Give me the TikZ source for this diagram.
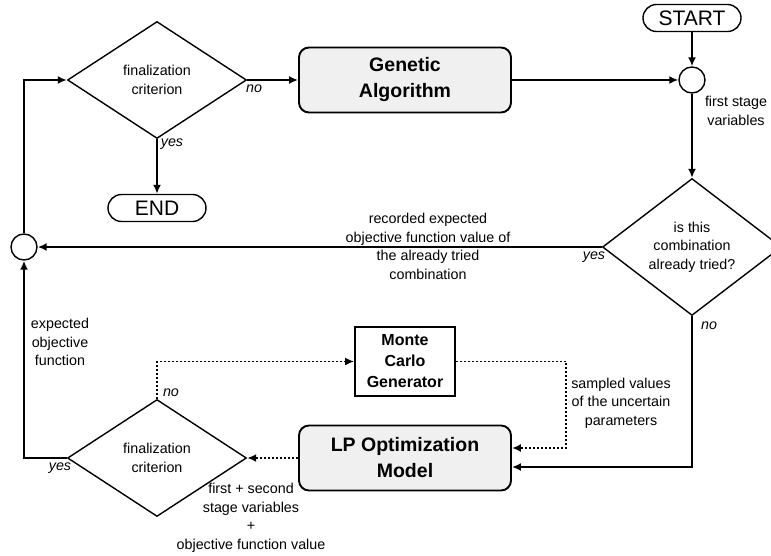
\documentclass[tikz,border=0pt]{standalone}
\usepackage{fontspec}
\setmainfont{Liberation Sans}
\usetikzlibrary{shapes.geometric,shapes.misc,arrows.meta}

\begin{document}
\begin{tikzpicture}[x=1pt,y=-1pt,
  >={Latex[length=9pt,width=8pt]},
  line width=1.8pt,
  txt/.style={font=\fontsize{14.3}{18.5}\selectfont, align=center},
  lbl/.style={font=\fontsize{14.3}{17}\selectfont\itshape, inner sep=1pt},
  dec/.style={diamond, draw, line width=1.4pt, minimum width=179pt, minimum height=117pt, inner sep=0pt, txt},
  blk/.style={draw, line width=1.9pt, rounded corners=10pt, fill=black!6, minimum width=212pt, minimum height=65pt, align=center, font=\fontsize{19.5}{26}\selectfont\bfseries},
  term/.style={rounded rectangle, draw, line width=1.4pt, minimum width=98pt, minimum height=27pt, inner sep=0pt, font=\fontsize{21}{24}\selectfont},
  jun/.style={circle, draw, line width=1.4pt, minimum size=26pt, inner sep=0pt},
  dots/.style={dash pattern=on 1.8pt off 2.2pt}]
\clip (0,0) rectangle (771,556);
% nodes
\node[dec] (fin1) at (157,80) {finalization\\criterion};
\node[blk] (ga) at (405,80) {Genetic\\Algorithm};
\node[term] (start) at (692,18) {START};
\node[jun] (jun1) at (692,80) {};
\node[term] (end) at (157,208) {END};
\node[dec] (tried) at (692,247) {is this\\combination\\already tried?};
\node[jun] (jun2) at (24,247) {};
\node[draw, line width=1.8pt, minimum width=100pt, minimum height=69pt, inner sep=0pt, align=center, font=\fontsize{16}{21}\selectfont\bfseries] (mc) at (405,361.5) {Monte\\Carlo\\Generator};
\node[blk] (lp) at (405,458) {LP Optimization\\Model};
\node[dec] (fin2) at (157,458) {finalization\\criterion};
\coordinate (mcr) at (566,448);
% connectors
\draw[->] (jun2) |- (fin1);
\draw[->] (fin1) -- (ga);
\draw[->] (fin1) -- (end);
\draw[->] (ga) -- (jun1);
\draw[->] (start) -- (jun1);
\draw[->] (jun1) -- (tried);
\draw[->] (tried) -- (jun2);
\draw[->] (tried.south) |- ([yshift=-9pt]lp.east);
\draw[->, dots] (mc.east) -| (mcr) -- ([yshift=10pt]lp.east);
\draw[->, dots] (lp) -- (fin2);
\draw[->, dots] (fin2.north) |- (mc.west);
\draw[->] (fin2.west) -| (jun2);
% labels
\node[lbl] (l1) at (254,89) {no};
\node[lbl] (l2) at (172,144) {yes};
\node[txt] (l3) at (736,111) {first stage\\variables};
\node[lbl] (l4) at (594,257) {yes};
\node[txt] (l5) at (428,246.5) {recorded expected\\objective function value of\\the already tried\\combination};
\node[lbl] (l6) at (709,326) {no};
\node[txt] (l7) at (621,403) {sampled values\\of the uncertain\\parameters};
\node[lbl] (l8) at (171,393) {no};
\node[txt] (l9) at (60,342) {expected\\objective\\function};
\node[lbl] (l10) at (60,468) {yes};
\node[txt] (l11) at (251,518) {first + second\\stage variables\\+\\objective function value};
\end{tikzpicture}
\end{document}
